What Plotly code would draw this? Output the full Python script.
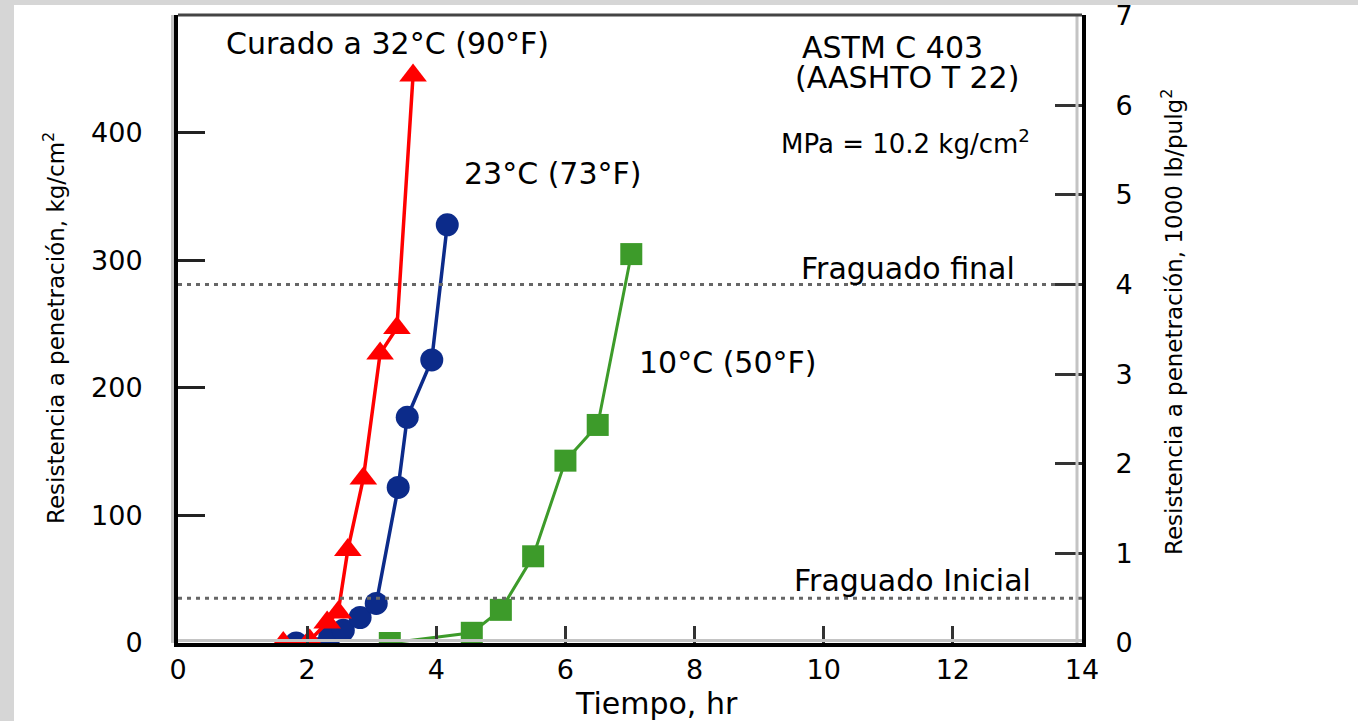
import plotly.graph_objects as go

# ---- data ----
t32 = [1.63, 2.04, 2.31, 2.48, 2.63, 2.87, 3.13, 3.39, 3.64]
r32 = [0, 2, 16, 24, 73, 129, 227, 247, 445]
t23 = [1.83, 2.35, 2.56, 2.82, 3.07, 3.41, 3.55, 3.93, 4.17]
r23 = [0, 5, 10, 20, 31, 122, 177, 222, 328]
t10 = [3.28, 4.55, 5.0, 5.5, 6.0, 6.5, 7.02]
r10 = [0, 8, 26, 68, 143, 171, 305]

set_ksi = [0.5, 4.0]            # fraguado inicial / final, 1000 lb/pulg2
set_labels = ["Fraguado Inicial", "Fraguado final"]
x_ticks = [0, 2, 4, 6, 8, 10, 12, 14]
y_ticks = [0, 100, 200, 300, 400]
y2_ticks = [0, 1, 2, 3, 4, 5, 6, 7]
KG_PER_KSI = 70.307
X_MAX = 14
Y2_MAX = 7.005

FONT = "DejaVu Sans"
RED = "#ff0000"
BLUE = "#0c2b8a"
GREEN = "#3d9b2a"

fig = go.Figure()

# threshold dotted lines (on the right, psi axis)
for v in set_ksi:
    fig.add_trace(go.Scatter(x=[0, X_MAX], y=[v, v], yaxis="y2", mode="lines",
                             line=dict(color="#666666", width=3, dash="4px,5px"),
                             hoverinfo="skip"))

fig.add_trace(go.Scatter(x=t10, y=r10, mode="lines+markers",
                         line=dict(color=GREEN, width=3),
                         marker=dict(symbol="square", size=22, color=GREEN)))
fig.add_trace(go.Scatter(x=t23, y=r23, mode="lines+markers",
                         line=dict(color=BLUE, width=3.5),
                         marker=dict(symbol="circle", size=23, color=BLUE)))
fig.add_trace(go.Scatter(x=t32, y=r32, mode="lines+markers",
                         line=dict(color=RED, width=3.5),
                         marker=dict(symbol="triangle-up", size=24, color=RED)))

L, R, T, B = 178, 276, 15, 78
W, H = 1358, 721
pw, ph = W - L - R, H - T - B

def px_x(px):
    return (px - L) / pw

def px_y(py):
    return (H - B - py) / ph

ann_font = dict(family=FONT, size=30, color="black")
annotations = [
    dict(x=0.71, y=470, xref="x", yref="y", text="Curado a 32°C (90°F)",
         xanchor="left", yanchor="middle", showarrow=False, font=ann_font),
    dict(x=4.40, y=368, xref="x", yref="y", text="23°C (73°F)",
         xanchor="left", yanchor="middle", showarrow=False, font=ann_font),
    dict(x=7.11, y=220, xref="x", yref="y", text="10°C (50°F)",
         xanchor="left", yanchor="middle", showarrow=False, font=ann_font),
    dict(x=11.07, y=467, xref="x", yref="y", text="ASTM C 403",
         xanchor="center", yanchor="middle", showarrow=False, font=ann_font),
    dict(x=11.29, y=443.5, xref="x", yref="y", text="(AASHTO T 22)",
         xanchor="center", yanchor="middle", showarrow=False, font=ann_font),
    dict(x=11.26, y=393, xref="x", yref="y", text="MPa = 10.2 kg/cm<sup>2</sup>",
         xanchor="center", yanchor="middle", showarrow=False,
         font=dict(family=FONT, size=26, color="black")),
    dict(x=11.31, y=set_ksi[1] * KG_PER_KSI + 12.5, xref="x", yref="y", text=set_labels[1],
         xanchor="center", yanchor="middle", showarrow=False, font=ann_font),
    dict(x=11.38, y=set_ksi[0] * KG_PER_KSI + 14, xref="x", yref="y", text=set_labels[0],
         xanchor="center", yanchor="middle", showarrow=False, font=ann_font),
    # axis titles
    dict(x=px_x(656), y=px_y(703), xref="paper", yref="paper", text="Tiempo, hr",
         xanchor="center", yanchor="middle", showarrow=False,
         font=dict(family=FONT, size=30, color="black")),
    dict(x=px_x(54), y=px_y(328), xref="paper", yref="paper",
         text="Resistencia a penetración, kg/cm<sup>2</sup>", textangle=-90,
         xanchor="center", yanchor="middle", showarrow=False,
         font=dict(family=FONT, size=23, color="black")),
    dict(x=px_x(1172), y=px_y(322), xref="paper", yref="paper",
         text="Resistencia a penetración, 1000 lb/pulg<sup>2</sup>", textangle=-90,
         xanchor="center", yanchor="middle", showarrow=False,
         font=dict(family=FONT, size=23, color="black")),
]

shapes = [
    # textured grey margins of the scanned page
    dict(type="rect", xref="paper", yref="paper", x0=px_x(0), x1=px_x(14),
         y0=px_y(H), y1=px_y(0), fillcolor="#d6d6d6", line=dict(width=0), layer="below"),
    dict(type="rect", xref="paper", yref="paper", x0=px_x(0), x1=px_x(W),
         y0=px_y(5), y1=px_y(0), fillcolor="#d6d6d6", line=dict(width=0), layer="below"),
    # light shadow lines next to the frame
    dict(type="line", xref="paper", yref="paper", x0=px_x(172.5), x1=px_x(172.5),
         y0=0, y1=1, line=dict(color="#c4c4c4", width=3)),
    dict(type="line", xref="paper", yref="paper", x0=0, x1=1,
         y0=px_y(640.5), y1=px_y(640.5), line=dict(color="#c4c4c4", width=3)),
    dict(type="line", xref="paper", yref="paper", x0=px_x(1077), x1=px_x(1077),
         y0=0, y1=1, line=dict(color="#c4c4c4", width=3)),
    # top frame line
    dict(type="line", xref="paper", yref="paper", x0=0, x1=1, y0=1, y1=1,
         line=dict(color="#444444", width=3)),
]

tickfont = dict(family=FONT, size=27, color="black")

fig.update_layout(
    width=W, height=H,
    margin=dict(l=L, r=R, t=T, b=B, pad=0, autoexpand=False),
    paper_bgcolor="white", plot_bgcolor="white",
    showlegend=False,
    font=dict(family=FONT, color="black"),
    xaxis=dict(range=[0, X_MAX], tickvals=x_ticks, ticks="inside", ticklen=17,
               tickwidth=3, tickcolor="#333333", showline=True, linewidth=4,
               linecolor="black", showgrid=False, zeroline=False, tickfont=tickfont,
               ticklabelstandoff=0, ticklabeloverflow="allow", automargin=False,
               fixedrange=True),
    yaxis=dict(range=[0, Y2_MAX * KG_PER_KSI], tickvals=y_ticks, ticks="inside",
               ticklen=27, tickwidth=3, tickcolor="#222222", showline=True, linewidth=4,
               linecolor="black", showgrid=False, zeroline=False, tickfont=tickfont,
               ticklabelstandoff=26, ticklabeloverflow="allow", automargin=False,
               fixedrange=True),
    yaxis2=dict(range=[0, Y2_MAX], tickvals=y2_ticks, overlaying="y", side="right",
                ticks="inside", ticklen=27, tickwidth=3, tickcolor="#333333",
                showline=True, linewidth=4, linecolor="black", showgrid=False,
                zeroline=False, tickfont=tickfont, ticklabelstandoff=24,
                ticklabeloverflow="allow", automargin=False, fixedrange=True),
    annotations=annotations,
    shapes=shapes,
)

fig.write_html("out.html", include_plotlyjs=True,
               config={"displayModeBar": False},
               post_script="document.body.style.margin='0';document.body.style.overflow='hidden';")
